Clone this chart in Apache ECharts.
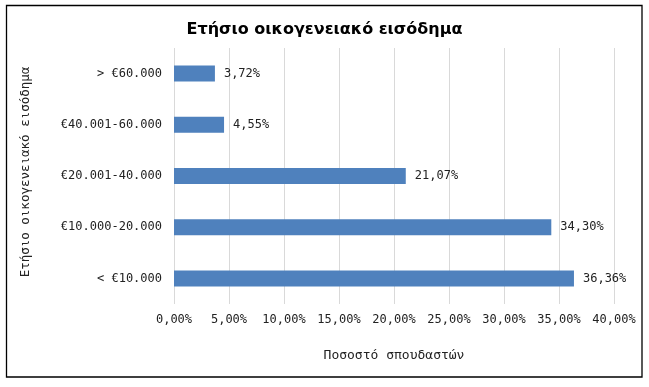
<!DOCTYPE html>
<html><head><meta charset="utf-8">
<script src="https://cdn.jsdelivr.net/npm/echarts@6/dist/echarts.min.js"></script>
<style>html,body{margin:0;padding:0;background:#fff}#c{width:649px;height:387px}</style>
</head><body><div id="c"></div>
<script>
var categories = ['< €10.000', '€10.000-20.000', '€20.001-40.000', '€40.001-60.000', '> €60.000'];
var values = [36.36, 34.30, 21.07, 4.55, 3.72];
var titleText = 'Ετήσιο οικογενειακό εισόδημα';
var xName = 'Ποσοστό σπουδαστών';
var yName = 'Ετήσιο οικογενειακό εισόδημα';
var mono = '"DejaVu Sans Mono", monospace';
function pct(v){ return v.toFixed(2).replace('.', ',') + '%'; }
var chart = echarts.init(document.getElementById('c'));
chart.setOption({
  animation: false,
  backgroundColor: '#fff',
  title: { text: titleText, left: 'center', top: 17,
    textStyle: { fontFamily: '"DejaVu Sans", sans-serif', fontWeight: 'bold', fontSize: 16, color: '#000' } },
  graphic: [{ type: 'rect', shape: { x: 6.5, y: 5.5, width: 635.5, height: 371.5 },
    style: { fill: null, stroke: '#000', lineWidth: 1.3 }, silent: true }],
  grid: { left: 174, right: 35, top: 48, bottom: 83, containLabel: false },
  xAxis: {
    type: 'value', min: 0, max: 40, interval: 5,
    name: xName, nameLocation: 'middle', nameGap: 45,
    nameTextStyle: { fontFamily: mono, fontSize: 13, color: '#222' },
    axisLine: { show: false }, axisTick: { show: false },
    splitLine: { lineStyle: { color: '#d9d9d9' } },
    axisLabel: { formatter: function(v){ return pct(v); }, fontFamily: mono, fontSize: 12, color: '#222', margin: 10 }
  },
  yAxis: {
    type: 'category', data: categories,
    name: yName, nameLocation: 'middle', nameGap: 142, nameRotate: 90,
    nameTextStyle: { fontFamily: mono, fontSize: 12.5, color: '#222', padding: [0, 0, 0, 8] },
    axisLine: { show: false }, axisTick: { show: false },
    axisLabel: { fontFamily: mono, fontSize: 12, color: '#222', margin: 12 }
  },
  series: [{
    type: 'bar', data: values, barWidth: 16,
    itemStyle: { color: '#4f81bd' },
    label: { show: true, position: 'right', distance: 9, formatter: function(p){ return pct(p.value); },
      fontFamily: mono, fontSize: 12, color: '#222' }
  }]
});
</script></body></html>
